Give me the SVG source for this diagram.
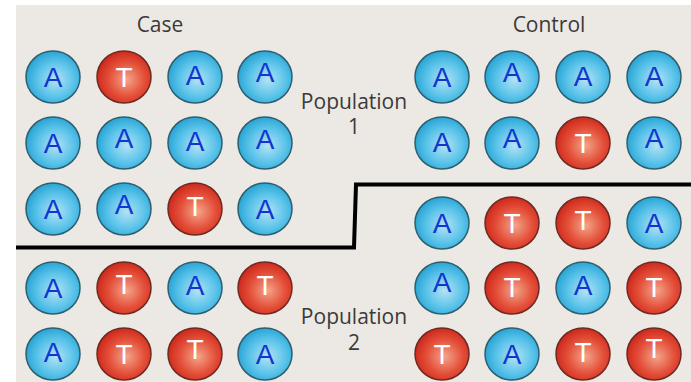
<svg xmlns="http://www.w3.org/2000/svg" width="691" height="382" viewBox="0 0 691 382">
<defs>
<radialGradient id="gb" cx="0.55" cy="0.55" r="0.55">
<stop offset="0" stop-color="#b4e2f4"/>
<stop offset="0.6" stop-color="#5cc4ea"/>
<stop offset="1" stop-color="#2aa6d6"/>
</radialGradient>
<radialGradient id="gr" cx="0.55" cy="0.55" r="0.55">
<stop offset="0" stop-color="#f3a58a"/>
<stop offset="0.6" stop-color="#e4503a"/>
<stop offset="1" stop-color="#cf2a1c"/>
</radialGradient>
</defs>
<style>
.b ellipse{fill:url(#gb);stroke:#2d5f70;stroke-width:1.5}
.r ellipse{fill:url(#gr);stroke:#6e2a22;stroke-width:1.5}
.b text{fill:#1236d0}
.r text{fill:#ffffff}
text.l{font-family:"Liberation Sans",Arial,sans-serif;font-size:28px;text-anchor:middle}
.lab{font-family:"Open Sans","Noto Sans",sans-serif;font-size:21px;fill:#3a3a3a;text-anchor:middle}
</style>
<rect x="16" y="5" width="675" height="377" fill="#ece8e3"/>
<text class="lab" x="160" y="32">Case</text>
<text class="lab" x="549" y="32">Control</text>
<text class="lab" x="354" y="109">Population</text>
<text class="lab" x="354" y="134">1</text>
<text class="lab" x="354" y="324">Population</text>
<text class="lab" x="354" y="350">2</text>
<g id="connectors">
<path d="M16,247.5 H354 L356,184.5 H691" fill="none" stroke="#000" stroke-width="4"/>
</g>
<!-- Case row 1 -->
<g id="c11" class="b"><ellipse cx="53" cy="77" rx="27" ry="26"/><text class="l" x="53" y="87">A</text></g>
<g id="c12" class="r"><ellipse cx="124" cy="77" rx="27" ry="26"/><text class="l" x="124" y="87">T</text></g>
<g id="c13" class="b"><ellipse cx="195" cy="77" rx="27" ry="26"/><text class="l" x="195" y="85">A</text></g>
<g id="c14" class="b"><ellipse cx="265" cy="77" rx="27" ry="26"/><text class="l" x="265" y="82">A</text></g>
<!-- Case row 2 -->
<g id="c21" class="b"><ellipse cx="53" cy="143" rx="27" ry="26"/><text class="l" x="53" y="153">A</text></g>
<g id="c22" class="b"><ellipse cx="124" cy="143" rx="27" ry="26"/><text class="l" x="124" y="148">A</text></g>
<g id="c23" class="b"><ellipse cx="195" cy="143" rx="27" ry="26"/><text class="l" x="195" y="151">A</text></g>
<g id="c24" class="b"><ellipse cx="265" cy="143" rx="27" ry="26"/><text class="l" x="265" y="149">A</text></g>
<!-- Case row 3 -->
<g id="c31" class="b"><ellipse cx="53" cy="209" rx="27" ry="26"/><text class="l" x="53" y="219">A</text></g>
<g id="c32" class="b"><ellipse cx="124" cy="209" rx="27" ry="26"/><text class="l" x="124" y="214">A</text></g>
<g id="c33" class="r"><ellipse cx="195" cy="209" rx="27" ry="26"/><text class="l" x="195" y="216">T</text></g>
<g id="c34" class="b"><ellipse cx="265" cy="209" rx="27" ry="26"/><text class="l" x="265" y="219">A</text></g>
<!-- Case row 4 -->
<g id="c41" class="b"><ellipse cx="53" cy="288" rx="27" ry="26"/><text class="l" x="53" y="298">A</text></g>
<g id="c42" class="r"><ellipse cx="124" cy="288" rx="27" ry="26"/><text class="l" x="124" y="294">T</text></g>
<g id="c43" class="b"><ellipse cx="195" cy="288" rx="27" ry="26"/><text class="l" x="195" y="295">A</text></g>
<g id="c44" class="r"><ellipse cx="265" cy="288" rx="27" ry="26"/><text class="l" x="265" y="295">T</text></g>
<!-- Case row 5 -->
<g id="c51" class="b"><ellipse cx="53" cy="354" rx="27" ry="26"/><text class="l" x="53" y="362">A</text></g>
<g id="c52" class="r"><ellipse cx="124" cy="354" rx="27" ry="26"/><text class="l" x="124" y="364">T</text></g>
<g id="c53" class="r"><ellipse cx="195" cy="354" rx="27" ry="26"/><text class="l" x="195" y="359">T</text></g>
<g id="c54" class="b"><ellipse cx="265" cy="354" rx="27" ry="26"/><text class="l" x="265" y="364">A</text></g>
<!-- Control row 1 -->
<g id="k11" class="b"><ellipse cx="442" cy="77" rx="27" ry="26"/><text class="l" x="442" y="87">A</text></g>
<g id="k12" class="b"><ellipse cx="512" cy="77" rx="27" ry="26"/><text class="l" x="512" y="82">A</text></g>
<g id="k13" class="b"><ellipse cx="583" cy="77" rx="27" ry="26"/><text class="l" x="583" y="86">A</text></g>
<g id="k14" class="b"><ellipse cx="654" cy="77" rx="27" ry="26"/><text class="l" x="654" y="86">A</text></g>
<!-- Control row 2 -->
<g id="k21" class="b"><ellipse cx="442" cy="143" rx="27" ry="26"/><text class="l" x="442" y="152">A</text></g>
<g id="k22" class="b"><ellipse cx="512" cy="143" rx="27" ry="26"/><text class="l" x="512" y="148">A</text></g>
<g id="k23" class="r"><ellipse cx="583" cy="143" rx="27" ry="26"/><text class="l" x="583" y="153">T</text></g>
<g id="k24" class="b"><ellipse cx="654" cy="143" rx="27" ry="26"/><text class="l" x="654" y="148">A</text></g>
<!-- Control row 3 -->
<g id="k31" class="b"><ellipse cx="442" cy="223" rx="27" ry="26"/><text class="l" x="442" y="233">A</text></g>
<g id="k32" class="r"><ellipse cx="512" cy="223" rx="27" ry="26"/><text class="l" x="512" y="233">T</text></g>
<g id="k33" class="r"><ellipse cx="583" cy="223" rx="27" ry="26"/><text class="l" x="583" y="230">T</text></g>
<g id="k34" class="b"><ellipse cx="654" cy="223" rx="27" ry="26"/><text class="l" x="654" y="233">A</text></g>
<!-- Control row 4 -->
<g id="k41" class="b"><ellipse cx="442" cy="288" rx="27" ry="26"/><text class="l" x="442" y="292">A</text></g>
<g id="k42" class="r"><ellipse cx="512" cy="288" rx="27" ry="26"/><text class="l" x="512" y="297">T</text></g>
<g id="k43" class="b"><ellipse cx="583" cy="288" rx="27" ry="26"/><text class="l" x="583" y="295">A</text></g>
<g id="k44" class="r"><ellipse cx="654" cy="288" rx="27" ry="26"/><text class="l" x="654" y="297">T</text></g>
<!-- Control row 5 -->
<g id="k51" class="r"><ellipse cx="442" cy="354" rx="27" ry="26"/><text class="l" x="442" y="364">T</text></g>
<g id="k52" class="b"><ellipse cx="512" cy="354" rx="27" ry="26"/><text class="l" x="512" y="364">A</text></g>
<g id="k53" class="r"><ellipse cx="583" cy="354" rx="27" ry="26"/><text class="l" x="583" y="362">T</text></g>
<g id="k54" class="r"><ellipse cx="654" cy="354" rx="27" ry="26"/><text class="l" x="654" y="358">T</text></g>
</svg>
